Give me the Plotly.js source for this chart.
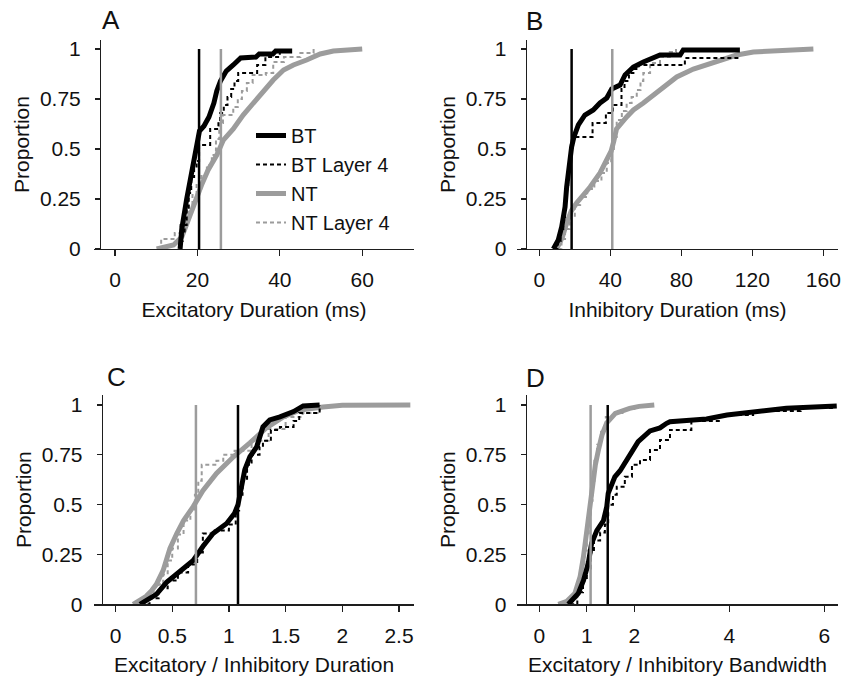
<!DOCTYPE html>
<html><head><meta charset="utf-8">
<script src="https://cdn.plot.ly/plotly-3.0.1.min.js"></script>
<style>html,body{margin:0;padding:0;background:#fff}#chart{width:843px;height:678px}</style>
</head><body><div id="chart"></div><script>
// ---------------- DATA ----------------
const seriesNames = ['BT', 'BT Layer 4', 'NT', 'NT Layer 4'];
const panelLetters = ['A', 'B', 'C', 'D'];
const xTitles = ['Excitatory Duration (ms)', 'Inhibitory Duration (ms)', 'Excitatory / Inhibitory Duration', 'Excitatory / Inhibitory Bandwidth'];
const yTickVals = [0, 0.25, 0.5, 0.75, 1];
const yTickText = ['0', '0.25', '0.5', '0.75', '1'];
const aTickVals = [0, 20, 40, 60];
const bTickVals = [0, 40, 80, 120, 160];
const cTickVals = [0, 0.5, 1, 1.5, 2, 2.5];
const cTickText = ['0', '0.5', '1', '1.5', '2', '2.5'];
const dTickVals = [0, 1, 2, 4, 6];

// Panel A: excitatory duration (ms)
const aBTx = [15.8, 16.2, 17.4, 18.6, 19.6, 20.5, 21.6, 22.8, 24.0, 24.7, 25.6, 27.0, 28.7, 30.5, 34.2, 35.0, 38.3, 39.0, 43.0];
const aBTy = [0.00, 0.10, 0.25, 0.39, 0.49, 0.59, 0.615, 0.66, 0.73, 0.79, 0.84, 0.89, 0.92, 0.955, 0.96, 0.975, 0.975, 0.99, 0.99];
const aBTL4x = [15.8, 16.0, 16.4, 16.9, 17.4, 17.9, 18.5, 19.2, 19.8, 20.4, 23.1, 25.1, 25.5, 26.4, 27.3, 28.2, 29.0, 29.9, 34.5, 36.5, 40.0];
const aBTL4y = [0.00, 0.04, 0.08, 0.12, 0.20, 0.28, 0.36, 0.40, 0.44, 0.52, 0.60, 0.64, 0.68, 0.72, 0.76, 0.80, 0.84, 0.88, 0.92, 0.96, 1.00];
const aNTx = [10.1, 12.5, 14.2, 16.2, 17.8, 19.4, 21.0, 22.6, 24.7, 26.3, 28.7, 31.1, 33.6, 36.0, 38.4, 40.9, 43.3, 46.5, 49.8, 53.0, 56.0, 60.0];
const aNTy = [0.00, 0.01, 0.02, 0.06, 0.145, 0.245, 0.32, 0.395, 0.47, 0.545, 0.60, 0.67, 0.73, 0.79, 0.845, 0.895, 0.92, 0.945, 0.975, 0.99, 0.995, 1.00];
const aNTL4x = [10.8, 11.2, 14.5, 15.8, 16.8, 17.8, 18.8, 19.8, 21.0, 22.3, 23.5, 24.5, 25.3, 26.2, 28.7, 29.8, 30.8, 32.0, 33.4, 36.6, 38.4, 41.0, 45.0, 48.2];
const aNTL4y = [0.00, 0.05, 0.08, 0.12, 0.17, 0.22, 0.27, 0.32, 0.37, 0.42, 0.47, 0.55, 0.63, 0.67, 0.71, 0.75, 0.79, 0.83, 0.87, 0.88, 0.935, 0.96, 0.98, 1.00];
const aMedians = [20.4, 25.7]; // BT, NT

// Panel B: inhibitory duration (ms)
const bBTx = [7.9, 10.7, 12.6, 14.5, 15.4, 16.9, 18.2, 19.5, 22.0, 25.7, 30.4, 34.2, 38.0, 40.8, 45.5, 48.3, 53.0, 58.6, 64.2, 68.0, 79.3, 81.1, 113.0];
const bBTy = [0.00, 0.045, 0.11, 0.21, 0.31, 0.445, 0.51, 0.56, 0.62, 0.67, 0.695, 0.73, 0.755, 0.80, 0.82, 0.87, 0.91, 0.935, 0.955, 0.97, 0.97, 0.995, 0.995];
const bBTL4x = [8.5, 10.5, 12.0, 13.5, 14.5, 15.5, 16.3, 17.0, 17.8, 19.0, 30.0, 37.5, 41.5, 46.3, 48.0, 50.5, 53.0, 56.0, 82.0, 113.0];
const bBTL4y = [0.00, 0.04, 0.10, 0.16, 0.24, 0.32, 0.40, 0.46, 0.52, 0.56, 0.63, 0.68, 0.72, 0.80, 0.84, 0.88, 0.90, 0.92, 0.955, 0.955];
const bNTx = [9.8, 13.0, 15.4, 18.0, 21.0, 25.0, 28.6, 34.2, 38.0, 40.5, 42.0, 43.5, 49.2, 53.0, 58.6, 68.0, 77.4, 86.8, 95.0, 101.8, 111.2, 120.6, 139.4, 154.4];
const bNTy = [0.00, 0.06, 0.13, 0.19, 0.23, 0.27, 0.31, 0.38, 0.44, 0.49, 0.54, 0.60, 0.66, 0.695, 0.73, 0.795, 0.86, 0.90, 0.925, 0.945, 0.97, 0.985, 0.995, 1.00];
const bNTL4x = [10.5, 12.5, 14.5, 17.0, 20.0, 23.0, 27.0, 31.0, 35.0, 38.0, 40.5, 42.0, 43.6, 46.5, 49.2, 52.0, 54.9, 57.0, 58.6, 62.4, 68.0, 73.5, 77.0];
const bNTL4y = [0.00, 0.05, 0.10, 0.16, 0.22, 0.26, 0.30, 0.34, 0.38, 0.43, 0.50, 0.56, 0.645, 0.69, 0.73, 0.76, 0.795, 0.84, 0.88, 0.93, 0.96, 0.985, 1.00];
const bMedians = [18.2, 41.1];

// Panel C: excitatory / inhibitory duration
const cBTx = [0.215, 0.30, 0.36, 0.45, 0.57, 0.685, 0.77, 0.86, 0.98, 1.05, 1.08, 1.10, 1.14, 1.185, 1.245, 1.30, 1.36, 1.45, 1.57, 1.655, 1.80];
const cBTy = [0.00, 0.03, 0.05, 0.11, 0.17, 0.22, 0.29, 0.355, 0.405, 0.457, 0.50, 0.57, 0.675, 0.74, 0.79, 0.89, 0.925, 0.94, 0.967, 0.995, 1.00];
const cBTL4x = [0.22, 0.30, 0.38, 0.46, 0.55, 0.64, 0.72, 0.77, 0.86, 1.00, 1.06, 1.09, 1.12, 1.16, 1.20, 1.27, 1.30, 1.37, 1.45, 1.57, 1.62, 1.80];
const cBTL4y = [0.00, 0.03, 0.08, 0.12, 0.16, 0.20, 0.26, 0.355, 0.37, 0.40, 0.47, 0.55, 0.63, 0.70, 0.75, 0.79, 0.82, 0.875, 0.89, 0.92, 0.96, 1.00];
const cNTx = [0.155, 0.27, 0.32, 0.36, 0.42, 0.48, 0.54, 0.60, 0.685, 0.77, 0.89, 1.04, 1.185, 1.33, 1.48, 1.63, 1.83, 2.0, 2.6];
const cNTy = [0.00, 0.04, 0.07, 0.10, 0.17, 0.28, 0.355, 0.42, 0.49, 0.57, 0.657, 0.74, 0.81, 0.885, 0.94, 0.975, 0.99, 0.998, 1.00];
const cNTL4x = [0.17, 0.25, 0.32, 0.38, 0.42, 0.46, 0.50, 0.55, 0.60, 0.66, 0.70, 0.73, 0.76, 0.89, 0.95, 1.05, 1.20, 1.35, 1.50, 1.65, 1.80];
const cNTL4y = [0.00, 0.03, 0.06, 0.10, 0.15, 0.22, 0.28, 0.35, 0.42, 0.47, 0.55, 0.62, 0.70, 0.72, 0.75, 0.77, 0.82, 0.88, 0.94, 0.96, 1.00];
const cMedians = [1.08, 0.709];

// Panel D: excitatory / inhibitory bandwidth
const dBTx = [0.61, 0.82, 0.93, 1.03, 1.10, 1.21, 1.35, 1.42, 1.45, 1.52, 1.59, 1.70, 1.84, 2.08, 2.33, 2.54, 2.68, 2.75, 3.24, 3.52, 3.95, 4.5, 5.2, 6.26];
const dBTy = [0.00, 0.055, 0.12, 0.205, 0.305, 0.37, 0.42, 0.49, 0.557, 0.607, 0.64, 0.67, 0.724, 0.816, 0.87, 0.885, 0.908, 0.916, 0.925, 0.93, 0.95, 0.967, 0.983, 0.995];
const dBTL4x = [0.65, 0.80, 0.92, 1.00, 1.08, 1.15, 1.28, 1.38, 1.45, 1.55, 1.63, 1.80, 1.95, 2.12, 2.33, 2.54, 2.75, 3.2, 3.8, 4.5, 5.5, 6.2];
const dBTL4y = [0.00, 0.06, 0.12, 0.18, 0.26, 0.32, 0.36, 0.40, 0.50, 0.55, 0.59, 0.64, 0.70, 0.724, 0.774, 0.824, 0.875, 0.92, 0.95, 0.97, 0.985, 1.00];
const dNTx = [0.40, 0.58, 0.75, 0.86, 0.93, 1.00, 1.06, 1.12, 1.18, 1.25, 1.32, 1.42, 1.60, 1.90, 2.10, 2.42];
const dNTy = [0.00, 0.015, 0.055, 0.14, 0.24, 0.37, 0.50, 0.60, 0.70, 0.78, 0.85, 0.91, 0.958, 0.983, 0.993, 1.00];
const dNTL4x = [0.45, 0.65, 0.78, 0.85, 0.90, 0.95, 1.00, 1.04, 1.08, 1.12, 1.16, 1.22, 1.30, 1.40, 1.55, 1.75, 2.00, 2.20];
const dNTL4y = [0.00, 0.03, 0.08, 0.14, 0.20, 0.27, 0.35, 0.45, 0.52, 0.62, 0.72, 0.80, 0.88, 0.94, 0.96, 0.98, 0.99, 1.00];
const dMedians = [1.44, 1.08];

// ---------------- LAYOUT / STYLE ----------------
const W = 843, H = 678;
const FONT = 'Liberation Sans, Arial, Helvetica, sans-serif';
const BLACK = '#000000', GRAY = '#9c9c9c', AXIS = '#1e1e1e', TEXT = '#111111';
const fx = v => v / W;
const fy = v => 1 - v / H;

const panels = [
  {sx: '', xdom: [94, 414], ydom: [40, 249], ypos: 100, xrange: [-5.1, 72.57], ytop: 1.045,
   tv: aTickVals, tt: aTickVals.map(String), lab: [111, 20],
   d: [[aBTx, aBTy], [aBTL4x, aBTL4y], [aNTx, aNTy], [aNTL4x, aNTL4y]], med: aMedians},
  {sx: '2', xdom: [517.3, 837.7], ydom: [40, 249], ypos: 525.7, xrange: [-12.4, 168.1], ytop: 1.045,
   tv: bTickVals, tt: bTickVals.map(String), lab: [534, 21],
   d: [[bBTx, bBTy], [bBTL4x, bBTL4y], [bNTx, bNTy], [bNTL4x, bNTL4y]], med: bMedians},
  {sx: '3', xdom: [94, 414.3], ydom: [395, 604.3], ypos: 101.7, xrange: [-0.19, 2.635], ytop: 1.05,
   tv: cTickVals, tt: cTickText, lab: [116, 377],
   d: [[cBTx, cBTy], [cBTL4x, cBTL4y], [cNTx, cNTy], [cNTL4x, cNTL4y]], med: cMedians},
  {sx: '4', xdom: [517.3, 837.7], ydom: [395, 604.3], ypos: 525.7, xrange: [-0.463, 6.28], ytop: 1.05,
   tv: dTickVals, tt: dTickVals.map(String), lab: [535, 378],
   d: [[dBTx, dBTy], [dBTL4x, dBTL4y], [dNTx, dNTy], [dNTL4x, dNTL4y]], med: dMedians}
];

const styles = [
  {color: BLACK, width: 5, dash: 'solid', shape: 'linear', rank: 1},
  {color: BLACK, width: 2, dash: '4px,3px', shape: 'hv', rank: 2},
  {color: GRAY, width: 5, dash: 'solid', shape: 'linear', rank: 3},
  {color: GRAY, width: 2, dash: '4px,3px', shape: 'hv', rank: 4}
];
const drawOrder = [2, 3, 0, 1];

const traces = [];
const layout = {
  width: W, height: H,
  margin: {l: 0, r: 0, t: 0, b: 0},
  paper_bgcolor: '#ffffff', plot_bgcolor: 'rgba(0,0,0,0)',
  font: {family: FONT, size: 21, color: TEXT},
  showlegend: true,
  legend: {x: fx(251), y: fy(116), xanchor: 'left', yanchor: 'top',
           bgcolor: 'rgba(0,0,0,0)', borderwidth: 0,
           font: {family: FONT, size: 20, color: TEXT}, itemwidth: 30, tracegroupgap: 0},
  annotations: [], hovermode: false
};

panels.forEach((p, i) => {
  const xa = 'x' + p.sx, ya = 'y' + p.sx;
  drawOrder.forEach(k => {
    const s = styles[k];
    traces.push({
      x: p.d[k][0], y: p.d[k][1], xaxis: xa, yaxis: ya,
      type: 'scatter', mode: 'lines', name: seriesNames[k],
      legendrank: s.rank, showlegend: i === 0,
      line: {color: s.color, width: s.width, dash: s.dash, shape: s.shape},
      hoverinfo: 'skip'
    });
  });
  // median lines: BT (black) and NT (gray)
  [[p.med[0], BLACK], [p.med[1], GRAY]].forEach(([m, c]) => {
    traces.push({x: [m, m], y: [0, 1], xaxis: xa, yaxis: ya, type: 'scatter', mode: 'lines',
      line: {color: c, width: 2.5}, showlegend: false, hoverinfo: 'skip'});
  });
  layout['xaxis' + p.sx] = {
    domain: [fx(p.xdom[0]), fx(p.xdom[1])], anchor: ya, range: p.xrange,
    tickmode: 'array', tickvals: p.tv, ticktext: p.tt,
    showline: true, linecolor: AXIS, linewidth: 1.2, mirror: false,
    ticks: 'outside', ticklen: 6, tickwidth: 1.2, tickcolor: AXIS,
    showgrid: false, zeroline: false, automargin: false, fixedrange: true,
    tickfont: {family: FONT, size: 21, color: TEXT}, ticklabelstandoff: 6,
    title: {text: xTitles[i], font: {family: FONT, size: 21, color: TEXT}, standoff: 11}
  };
  layout['yaxis' + p.sx] = {
    domain: [fy(p.ydom[1]), fy(p.ydom[0])], anchor: 'free', position: fx(p.ypos),
    range: [0, p.ytop],
    tickmode: 'array', tickvals: yTickVals, ticktext: yTickText,
    showline: true, linecolor: AXIS, linewidth: 1.2,
    ticks: 'outside', ticklen: 5, tickwidth: 1.2, tickcolor: AXIS,
    showgrid: false, zeroline: false, automargin: false, fixedrange: true,
    tickfont: {family: FONT, size: 21, color: TEXT}, ticklabelstandoff: 10,
    title: {text: 'Proportion', font: {family: FONT, size: 21, color: TEXT}, standoff: 3}
  };
  layout.annotations.push({
    text: panelLetters[i], xref: 'paper', yref: 'paper', x: fx(p.lab[0]), y: fy(p.lab[1]),
    xanchor: 'center', yanchor: 'middle', showarrow: false,
    font: {family: FONT, size: 26, color: TEXT}
  });
});

Plotly.newPlot('chart', traces, layout, {displayModeBar: false, staticPlot: true});
</script></body></html>
